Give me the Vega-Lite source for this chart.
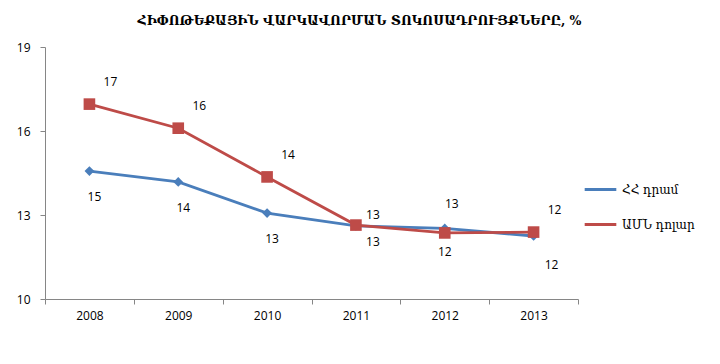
{
  "$schema": "https://vega.github.io/schema/vega-lite/v6.json",
  "autosize": {"type": "none"},
  "width": 533,
  "height": 252,
  "padding": {"left": 45, "top": 47, "right": 142, "bottom": 65},
  "background": "white",
  "title": {
    "text": "ՀԻՓՈԹԵՔԱՅԻՆ ՎԱՐԿԱՎՈՐՄԱՆ ՏՈԿՈՍԱԴՐՈՒՅՔՆԵՐԸ, %",
    "font": "DejaVu Serif",
    "fontSize": 12.5,
    "fontWeight": "bold",
    "color": "#000000",
    "anchor": "middle",
    "dx": 48,
    "offset": 14
  },
  "data": {
    "values": [
      {"year": "2008", "series": "ՀՀ դրամ", "rate": 14.57},
      {"year": "2009", "series": "ՀՀ դրամ", "rate": 14.18},
      {"year": "2010", "series": "ՀՀ դրամ", "rate": 13.07},
      {"year": "2011", "series": "ՀՀ դրամ", "rate": 12.61},
      {"year": "2012", "series": "ՀՀ դրամ", "rate": 12.52},
      {"year": "2013", "series": "ՀՀ դրամ", "rate": 12.25},
      {"year": "2008", "series": "ԱՄՆ դոլար", "rate": 16.96},
      {"year": "2009", "series": "ԱՄՆ դոլար", "rate": 16.1},
      {"year": "2010", "series": "ԱՄՆ դոլար", "rate": 14.36},
      {"year": "2011", "series": "ԱՄՆ դոլար", "rate": 12.64},
      {"year": "2012", "series": "ԱՄՆ դոլար", "rate": 12.36},
      {"year": "2013", "series": "ԱՄՆ դոլար", "rate": 12.39}
    ]
  },
  "encoding": {
    "x": {
      "field": "year",
      "type": "ordinal",
      "scale": {"type": "band", "paddingInner": 0, "paddingOuter": 0},
      "axis": {
        "title": null,
        "labelAngle": 0,
        "labelFont": "Open Sans",
        "labelFontSize": 12,
        "labelColor": "#000000",
        "labelPadding": 6,
        "domainColor": "#868686",
        "tickColor": "#868686",
        "tickBand": "extent",
        "tickSize": 5,
        "grid": false
      }
    },
    "y": {
      "field": "rate",
      "type": "quantitative",
      "scale": {"domain": [10, 19], "nice": false, "zero": false},
      "axis": {
        "title": null,
        "values": [10, 13, 16, 19],
        "labelFont": "Open Sans",
        "labelFontSize": 12,
        "labelColor": "#000000",
        "labelPadding": 10,
        "domainColor": "#868686",
        "tickColor": "#868686",
        "tickSize": 5,
        "grid": false
      }
    }
  },
  "layer": [
    {
      "mark": {"type": "line", "strokeWidth": 2.8},
      "encoding": {
        "color": {
          "field": "series",
          "type": "nominal",
          "scale": {"domain": ["ՀՀ դրամ", "ԱՄՆ դոլար"], "range": ["#4A7EBB", "#BE4B48"]},
          "legend": {
            "title": null,
            "orient": "none",
            "legendX": 538,
            "legendY": 125,
            "labelFont": "DejaVu Serif",
            "labelFontSize": 12,
            "labelColor": "#000000",
            "labelOffset": 4,
            "symbolType": "stroke",
            "symbolStrokeWidth": 3,
            "symbolSize": 1000,
            "rowPadding": 11
          }
        }
      }
    },
    {
      "mark": {"type": "point", "filled": true, "opacity": 1, "strokeWidth": 0},
      "encoding": {
        "fill": {
          "condition": {"test": "datum.series === 'ՀՀ դրամ'", "value": "#4A7EBB"},
          "value": "#BE4B48"
        },
        "shape": {
          "condition": {"test": "datum.series === 'ՀՀ դրամ'", "value": "diamond"},
          "value": "square"
        },
        "size": {
          "condition": {"test": "datum.series === 'ՀՀ դրամ'", "value": 95},
          "value": 135
        }
      }
    },
    {
      "transform": [{"filter": "datum.series === 'ՀՀ դրամ' && datum.year <= '2010'"}],
      "mark": {"type": "text", "dx": 5, "dy": 26, "font": "Open Sans", "fontSize": 12},
      "encoding": {"text": {"field": "rate", "type": "quantitative", "format": ".0f"}, "color": {"value": "#000000"}}
    },
    {
      "transform": [{"filter": "datum.series === 'ՀՀ դրամ' && datum.year === '2011'"}],
      "mark": {"type": "text", "dx": 17, "dy": 16, "font": "Open Sans", "fontSize": 12},
      "encoding": {"text": {"field": "rate", "type": "quantitative", "format": ".0f"}, "color": {"value": "#000000"}}
    },
    {
      "transform": [{"filter": "datum.series === 'ՀՀ դրամ' && datum.year === '2012'"}],
      "mark": {"type": "text", "dx": 7, "dy": -24, "font": "Open Sans", "fontSize": 12},
      "encoding": {"text": {"field": "rate", "type": "quantitative", "format": ".0f"}, "color": {"value": "#000000"}}
    },
    {
      "transform": [{"filter": "datum.series === 'ՀՀ դրամ' && datum.year === '2013'"}],
      "mark": {"type": "text", "dx": 18, "dy": 29, "font": "Open Sans", "fontSize": 12},
      "encoding": {"text": {"field": "rate", "type": "quantitative", "format": ".0f"}, "color": {"value": "#000000"}}
    },
    {
      "transform": [{"filter": "datum.series === 'ԱՄՆ դոլար' && (datum.year <= '2010' || datum.year === '2013')"}],
      "mark": {"type": "text", "dx": 21, "dy": -22, "font": "Open Sans", "fontSize": 12},
      "encoding": {"text": {"field": "rate", "type": "quantitative", "format": ".0f"}, "color": {"value": "#000000"}}
    },
    {
      "transform": [{"filter": "datum.series === 'ԱՄՆ դոլար' && datum.year === '2011'"}],
      "mark": {"type": "text", "dx": 17, "dy": -10, "font": "Open Sans", "fontSize": 12},
      "encoding": {"text": {"field": "rate", "type": "quantitative", "format": ".0f"}, "color": {"value": "#000000"}}
    },
    {
      "transform": [{"filter": "datum.series === 'ԱՄՆ դոլար' && datum.year === '2012'"}],
      "mark": {"type": "text", "dx": 0, "dy": 19, "font": "Open Sans", "fontSize": 12},
      "encoding": {"text": {"field": "rate", "type": "quantitative", "format": ".0f"}, "color": {"value": "#000000"}}
    }
  ],
  "config": {"view": {"stroke": null}}
}
